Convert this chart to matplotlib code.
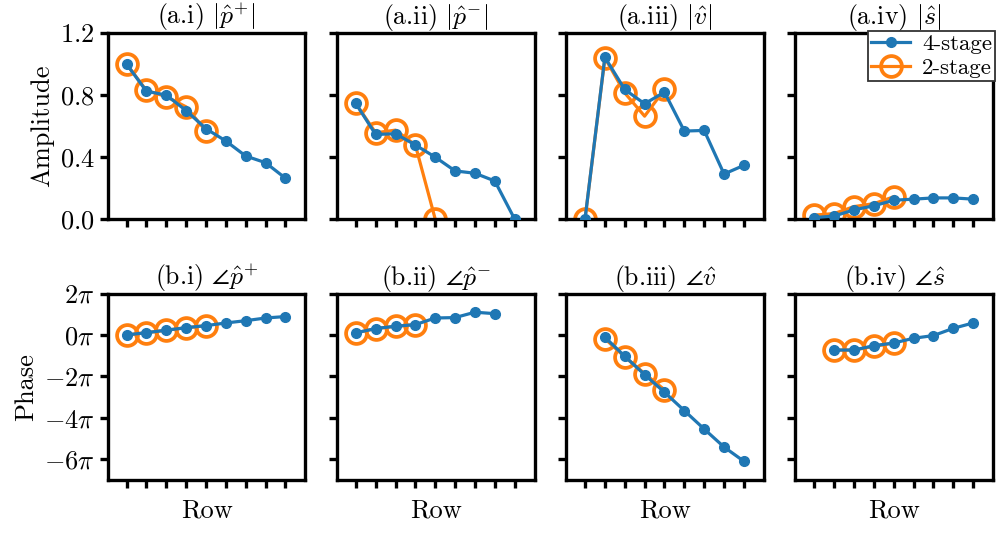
import numpy as np
import matplotlib
matplotlib.use("Agg")
import matplotlib.pyplot as plt

plt.rcParams['font.family'] = 'serif'
plt.rcParams['font.serif'] = ['cmr10', 'DejaVu Serif']
plt.rcParams['mathtext.fontset'] = 'cm'
plt.rcParams['axes.formatter.use_mathtext'] = True
plt.rcParams['font.size'] = 19

nan = np.nan
rows = np.arange(9)

# amplitudes (4-stage, 2-stage)
amp4 = {
    'p+': [1.0, 0.825, 0.80, 0.70, 0.583, 0.504, 0.407, 0.364, 0.264],
    'p-': [0.746, 0.546, 0.551, 0.478, 0.40, 0.311, 0.296, 0.246, 0.0],
    'v':  [0.0, 1.044, 0.836, 0.744, 0.819, 0.568, 0.572, 0.291, 0.347],
    's':  [0.01, 0.02, 0.06, 0.086, 0.122, 0.129, 0.137, 0.137, 0.129],
}
amp2 = {
    'p+': [1.0, 0.83, 0.79, 0.724, 0.568],
    'p-': [0.746, 0.557, 0.574, 0.478, 0.0],
    'v':  [0.0, 1.04, 0.814, 0.664, 0.836],
    's':  [0.026, 0.036, 0.081, 0.10, 0.144],
}
# phases in units of pi
ph4 = {
    'p+': [0.0, 0.11, 0.23, 0.35, 0.45, 0.58, 0.69, 0.82, 0.89],
    'p-': [0.10, 0.31, 0.42, 0.50, 0.82, 0.84, 1.10, 1.03, nan],
    'v':  [nan, -0.11, -1.03, -1.92, -2.77, -3.66, -4.55, -5.42, -6.11],
    's':  [nan, -0.73, -0.73, -0.52, -0.39, -0.16, -0.03, 0.32, 0.58],
}
ph2 = {
    'p+': [0.0, 0.11, 0.23, 0.35, 0.45],
    'p-': [0.10, 0.31, 0.42, 0.50, nan],
    'v':  [nan, -0.18, -1.06, -1.87, -2.65],
    's':  [nan, -0.73, -0.73, -0.55, -0.39],
}

keys = ['p+', 'p-', 'v', 's']
amp_titles = [r'(a.i) $|\hat{p}^{+}|$', r'(a.ii) $|\hat{p}^{-}|$',
              r'(a.iii) $|\hat{v}|$', r'(a.iv) $|\hat{s}|$']
ph_titles = [r'(b.i) $\angle\hat{p}^{+}$', r'(b.ii) $\angle\hat{p}^{-}$',
             r'(b.iii) $\angle\hat{v}$', r'(b.iv) $\angle\hat{s}$']

fig, axes = plt.subplots(2, 4, figsize=(9.97, 5.33), dpi=100)
fig.subplots_adjust(left=0.108, right=0.996, top=0.938, bottom=0.10,
                    wspace=0.16, hspace=0.40)

for j, k in enumerate(keys):
    for i, (d4, d2) in enumerate([(amp4, amp2), (ph4, ph2)]):
        ax = axes[i, j]
        y4 = np.array(d4[k])
        y2 = np.array(d2[k])
        if i == 1:
            y4 = y4 * np.pi
            y2 = y2 * np.pi
        ax.plot(rows, y4, '-o', color='#1f77b4', lw=2.3, ms=7,
                zorder=3, label='4-stage')
        ax.plot(rows[:len(y2)], y2, '-o', color='#ff7f0e', lw=2.3, ms=15,
                mfc='none', mew=2.7, zorder=2, label='2-stage')
        ax.set_xlim(-0.95, 9.0)
        ax.set_xticks(rows)
        ax.set_xticklabels([])
        for sp in ax.spines.values():
            sp.set_linewidth(2.4)
        ax.tick_params(width=2.4, length=6)
        if i == 0:
            ax.set_ylim(0, 1.2)
            ax.set_yticks([0, 0.4, 0.8, 1.2])
            ax.set_title(amp_titles[j], fontsize=18.5, pad=3)
            if j == 0:
                ax.set_yticklabels([r'$0.0$', r'$0.4$', r'$0.8$', r'$1.2$'])
                ax.set_ylabel('Amplitude')
            else:
                ax.set_yticklabels([])
        else:
            ax.set_ylim(-7 * np.pi, 2 * np.pi)
            ax.set_yticks(np.array([2, 0, -2, -4, -6]) * np.pi)
            ax.set_title(ph_titles[j], fontsize=18.5, pad=3)
            ax.set_xlabel('Row')
            if j == 0:
                ax.set_yticklabels([r'$2\pi$', r'$0\pi$', r'$-2\pi$',
                                    r'$-4\pi$', r'$-6\pi$'])
                ax.set_ylabel('Phase')
            else:
                ax.set_yticklabels([])

leg = axes[0, 3].legend(loc='upper right', fontsize=16.5, fancybox=False,
                        framealpha=1, edgecolor='#333333',
                        borderpad=0.15, handlelength=1.7, handletextpad=0.5,
                        labelspacing=0.15, borderaxespad=-0.1)
leg.get_frame().set_linewidth(1.3)

fig.savefig('out.png', dpi=100)
